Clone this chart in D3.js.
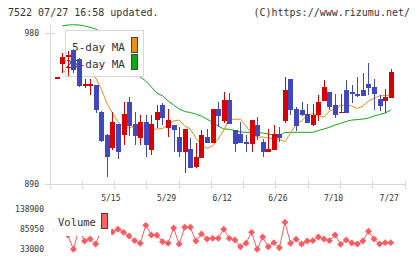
<!DOCTYPE html>
<html>
<head>
<meta charset="utf-8">
<script src="https://cdn.jsdelivr.net/npm/d3@7"></script>
<style>
  body { margin: 0; background: #fff; }
  svg { display: block; }
  text { font-family: 'DejaVu Sans Mono', monospace; fill: #333; }
</style>
</head>
<body>
<svg id="chart" width="420" height="259"></svg>
<script>
// candle data, index 0..60
const opens  = [953.6,961.5,965.5,969.9,964.3,948.9,948.9,949.0,933.1,919.2,911.6,925.8,919.2,938.7,925.8,917.7,927.1,910.3,928.1,937.1,
                923.2,925.2,917.8,909.3,910.9,900.3,905.7,918.2,914.6,934.7,927.6,940.1,922.2,919.8,914.9,913.7,925.2,915.0,909.3,910.3,
                919.8,927.6,952.6,934.5,934.1,931.7,925.2,931.1,939.7,944.8,937.1,932.5,946.0,944.8,943.6,946.0,949.6,947.8,940.5,939.7,941.4];
const highs  = [953.6,968.3,969.5,970.5,965.0,952.6,952.6,949.0,933.5,919.6,933.1,925.8,939.1,942.0,933.1,931.1,931.1,931.1,937.1,938.1,
                934.7,925.2,923.8,922.6,917.2,914.3,922.2,922.6,934.7,939.1,945.0,944.1,922.2,927.1,919.2,928.1,930.1,916.8,922.8,925.2,
                924.2,954.0,952.6,936.1,939.1,937.7,937.7,943.0,952.0,944.8,943.5,943.6,952.0,949.0,953.6,956.0,961.9,952.4,943.0,946.4,958.4];
const lows   = [953.6,956.0,954.4,956.0,948.0,947.5,943.3,932.5,915.3,894.0,910.3,904.7,913.3,918.8,913.3,913.3,906.3,907.3,923.2,925.2,
                918.2,909.3,906.3,896.7,899.7,899.4,905.7,914.6,914.6,924.2,926.2,925.6,909.3,914.6,908.9,909.3,916.2,906.3,909.3,910.3,
                915.2,926.5,931.1,921.8,930.5,926.5,924.6,927.7,939.7,934.1,929.2,932.5,932.5,938.1,941.7,942.6,943.0,934.1,933.5,932.5,941.4];
const closes = [953.6,965.9,966.9,958.0,948.6,949.6,949.6,934.1,915.8,906.3,927.1,909.3,931.7,924.8,918.8,927.0,913.3,925.8,933.1,929.2,
                928.1,922.2,909.3,922.6,899.7,906.3,919.2,914.6,934.7,930.7,940.1,925.6,913.7,914.6,913.7,928.1,918.8,909.3,910.9,919.8,
                917.6,946.0,934.1,924.8,931.1,926.5,931.1,939.1,948.0,935.7,931.1,933.1,932.5,943.5,942.9,942.6,947.4,943.5,936.7,942.0,956.8];

// moving averages (null = not drawn)
const ma5  = [null,957.6,955.9,956.8,958.5,957.9,955.0,953.2,946.6,938.3,932.3,927.0,924.0,923.4,924.6,924.0,922.8,922.5,922.8,923.1,
              925.2,927.6,928.1,924.6,922.8,917.4,913.2,911.2,912.7,916.8,922.2,928.6,928.6,928.6,924.6,920.1,918.0,918.0,917.4,916.8,
              916.5,915.3,920.4,925.8,927.6,931.1,932.0,930.8,929.9,933.5,934.7,936.8,937.1,936.5,935.0,936.5,939.5,941.0,942.5,942.7,943.0];
const ma25 = [null,984.2,984.8,984.9,984.8,984.2,983.4,982.4,980.0,975.8,971.1,966.3,962.1,958.5,955.6,953.8,951.4,947.8,944.2,942.5,
              939.5,937.1,934.7,933.2,932.6,931.7,930.5,928.7,926.7,924.6,922.8,922.6,921.9,921.0,920.8,920.8,920.7,920.4,919.8,919.2,
              918.9,920.7,920.8,920.8,920.8,920.8,920.8,921.9,922.8,923.8,925.2,926.1,927.3,928.1,928.4,928.7,929.3,930.5,931.4,932.3,934.1];

// volume (null = hidden behind the legend, estimated)
const volumes = [83000,88000,70000,32200,86000,54200,59500,46200,84000,95000,78000,85200,77200,67400,55000,48100,95700,70100,69300,52300,
                 48100,88600,46200,90500,90500,54200,72700,59500,61300,61300,85200,61300,56800,39100,48100,77200,32200,64800,39100,49700,
                 36400,103700,48100,58700,46200,54200,55000,64800,59500,55000,70100,45400,56800,48900,46200,54200,79900,59500,46200,49700,49700];

const dateLabels = ['5/15', '5/29', '6/12', '6/26', '7/10', '7/27'];
const dateIdx = [10, 20, 30, 40, 50, 60];
const priceTicks = [890, 980];
const volTicks = [33000, 85950, 138900];

const svg = d3.select('#chart');
const red = '#d80000', blue = '#4048c0';

const x = d3.scaleLinear().domain([0, 60]).range([56.7, 390.7]);
const y = d3.scaleLinear().domain([890, 980]).range([184, 33]);
const yv = d3.scaleLinear().domain([33000, 138900]).range([249, 209]);
const grid = d3.scaleLinear().domain([0, 11]).range([50, 405]);

// header
svg.append('text').attr('x', 8).attr('y', 16).attr('font-size', 10).text('7522 07/27 16:58 updated.');
svg.append('text').attr('x', 410).attr('y', 16).attr('font-size', 10).attr('text-anchor', 'end')
    .text('(C)https://www.rizumu.net/');

// axes
const axis = svg.append('g').attr('stroke', '#d8d8d8').attr('shape-rendering', 'crispEdges');
axis.append('line').attr('x1', 50).attr('x2', 50).attr('y1', 25).attr('y2', 189);
axis.append('line').attr('x1', 45).attr('x2', 405).attr('y1', y(890)).attr('y2', y(890));
axis.append('line').attr('x1', 45).attr('x2', 55).attr('y1', y(980)).attr('y2', y(980));
axis.selectAll('.tk').data(d3.range(12)).join('line')
    .attr('x1', d => grid(d)).attr('x2', d => grid(d)).attr('y1', 181).attr('y2', 189);

svg.append('g').selectAll('text').data(priceTicks).join('text')
    .attr('x', 39).attr('y', d => y(d) + 3).attr('font-size', 8).attr('text-anchor', 'end').text(d => d);

svg.append('g').selectAll('text').data(dateLabels).join('text')
    .attr('x', (d, i) => x(dateIdx[i]) - 1.5).attr('y', 201).attr('font-size', 8)
    .attr('text-anchor', 'middle').text(d => d);

// moving averages
const line = d3.line().defined(d => d != null).x((d, i) => x(i)).y(d => y(d));
svg.append('path').datum(ma25).attr('fill', 'none').attr('stroke', '#10a818').attr('stroke-width', 1).attr('d', line);
svg.append('path').datum(ma5).attr('fill', 'none').attr('stroke', '#f08c14').attr('stroke-width', 1).attr('d', line);

// legend
const lg = svg.append('g');
lg.append('rect').attr('x', 65.5).attr('y', 30.5).attr('width', 78).attr('height', 46)
    .attr('fill', '#fff').attr('stroke', '#d8d8d8');
lg.append('text').attr('x', 125).attr('y', 51).attr('font-size', 11).attr('text-anchor', 'end').attr('fill', '#444').text('5-day MA');
lg.append('text').attr('x', 125).attr('y', 67.5).attr('font-size', 11).attr('text-anchor', 'end').attr('fill', '#444').text('25-day MA');
lg.append('rect').attr('x', 131.5).attr('y', 37.5).attr('width', 6).attr('height', 15).attr('fill', '#f08c14').attr('stroke', '#444');
lg.append('rect').attr('x', 131.5).attr('y', 54.5).attr('width', 6).attr('height', 15).attr('fill', '#10a818').attr('stroke', '#444');

// candles
const idx = d3.range(opens.length);
const col = i => closes[i] >= opens[i] ? red : blue;
const cg = svg.append('g').attr('shape-rendering', 'crispEdges');
cg.selectAll('line').data(idx).join('line')
    .attr('x1', i => Math.round(x(i)) + 0.5).attr('x2', i => Math.round(x(i)) + 0.5)
    .attr('y1', i => y(highs[i])).attr('y2', i => y(lows[i]))
    .attr('stroke', col);
cg.selectAll('rect').data(idx).join('rect')
    .attr('x', i => Math.round(x(i)) - 2).attr('width', 5)
    .attr('y', i => y(Math.max(opens[i], closes[i])))
    .attr('height', i => Math.max(1.5, Math.abs(y(opens[i]) - y(closes[i]))))
    .attr('fill', col);

// volume
const vcol = '#ff5a5f';
svg.append('path').datum(volumes).attr('fill', 'none').attr('stroke', vcol).attr('stroke-width', 1)
    .attr('d', d3.line().x((d, i) => x(i)).y(d => yv(d)));
svg.append('g').selectAll('path').data(volumes).join('path')
    .attr('transform', (d, i) => `translate(${x(i)},${yv(d)})`)
    .attr('d', d3.symbol(d3.symbolDiamond2, 30))
    .attr('fill', vcol);

svg.append('rect').attr('x', 54).attr('y', 207).attr('width', 57).attr('height', 29).attr('fill', '#fff');
svg.append('text').attr('x', 58).attr('y', 226).attr('font-size', 10.5).attr('fill', '#444').text('Volume');
svg.append('rect').attr('x', 101.5).attr('y', 213.5).attr('width', 6).attr('height', 15)
    .attr('fill', '#ff6060').attr('stroke', '#444');

svg.append('g').selectAll('text').data(volTicks).join('text')
    .attr('x', 44).attr('y', d => yv(d) + 3).attr('font-size', 8).attr('text-anchor', 'end').text(d => d);
</script>
</body>
</html>
